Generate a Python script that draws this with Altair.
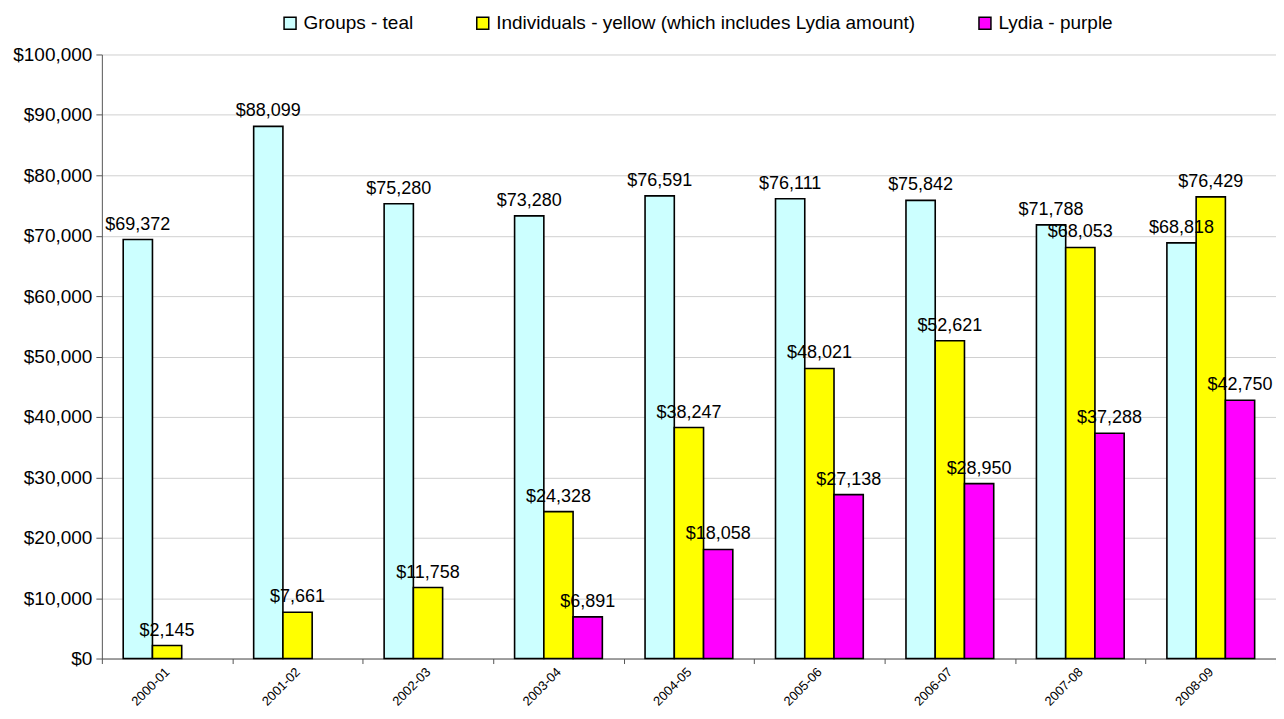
import altair as alt
import pandas as pd

years = ["2000-01", "2001-02", "2002-03", "2003-04", "2004-05",
         "2005-06", "2006-07", "2007-08", "2008-09"]
series = ["Groups - teal", "Individuals - yellow (which includes Lydia amount)", "Lydia - purple"]
groups = [69372, 88099, 75280, 73280, 76591, 76111, 75842, 71788, 68818]
individuals = [2145, 7661, 11758, 24328, 38247, 48021, 52621, 68053, 76429]
lydia = [None, None, None, 6891, 18058, 27138, 28950, 37288, 42750]
colors = ["#CCFFFF", "#FFFF00", "#FF00FF"]

rows = []
for i, y in enumerate(years):
    for s, vals in zip(series, [groups, individuals, lydia]):
        if vals[i] is not None:
            rows.append({"year": y, "series": s, "value": vals[i]})
df = pd.DataFrame(rows)

FONT = "Liberation Sans"

x = alt.X("year:N", sort=years, title=None,
          scale=alt.Scale(paddingInner=0, paddingOuter=0),
          axis=alt.Axis(labelAngle=-45, labelAlign="right", labelBaseline="middle",
                        labelFontSize=13, labelFont=FONT, labelColor="black",
                        tickBand="extent", tickSize=5, tickColor="#555555",
                        domainColor="#555555", labelPadding=6))
xo = alt.XOffset("series:N", sort=series,
                 scale=alt.Scale(domain=series, paddingInner=0, paddingOuter=0.73))
y = alt.Y("value:Q", title=None,
          scale=alt.Scale(domain=[0, 100000], nice=False),
          axis=alt.Axis(values=list(range(0, 100001, 10000)), format="$,d",
                        labelFontSize=19, labelFont=FONT, labelColor="black",
                        tickSize=6, tickColor="#555555", domainColor="#555555",
                        gridColor="#d0d0d0", labelPadding=4))

bars = alt.Chart(df).mark_bar(stroke="black", strokeWidth=1.6).encode(
    x=x, xOffset=xo, y=y,
    color=alt.Color("series:N", sort=series,
                    scale=alt.Scale(domain=series, range=colors),
                    legend=alt.Legend(title=None, orient="none", direction="horizontal",
                                      legendX=179, legendY=-41, symbolType="square",
                                      symbolSize=144, symbolStrokeColor="black",
                                      symbolStrokeWidth=1.5, labelFontSize=19,
                                      labelFont=FONT, labelColor="black",
                                      columnPadding=60, labelOffset=4, padding=0,
                                      labelLimit=600)),
)

labels = alt.Chart(df).mark_text(baseline="alphabetic", dy=-10, fontSize=18,
                                 font=FONT, color="black").encode(
    x=x, xOffset=xo, y=y,
    text=alt.Text("value:Q", format="$,d"),
)

chart = (bars + labels).properties(
    width=1176, height=605,
    autosize=alt.AutoSizeParams(type="none"),
    padding={"left": 94, "top": 46, "right": 0, "bottom": 55},
).configure_view(stroke=None).configure_axisX(grid=False)

chart.save("out.html", embed_options={"renderer": "svg", "actions": False})
